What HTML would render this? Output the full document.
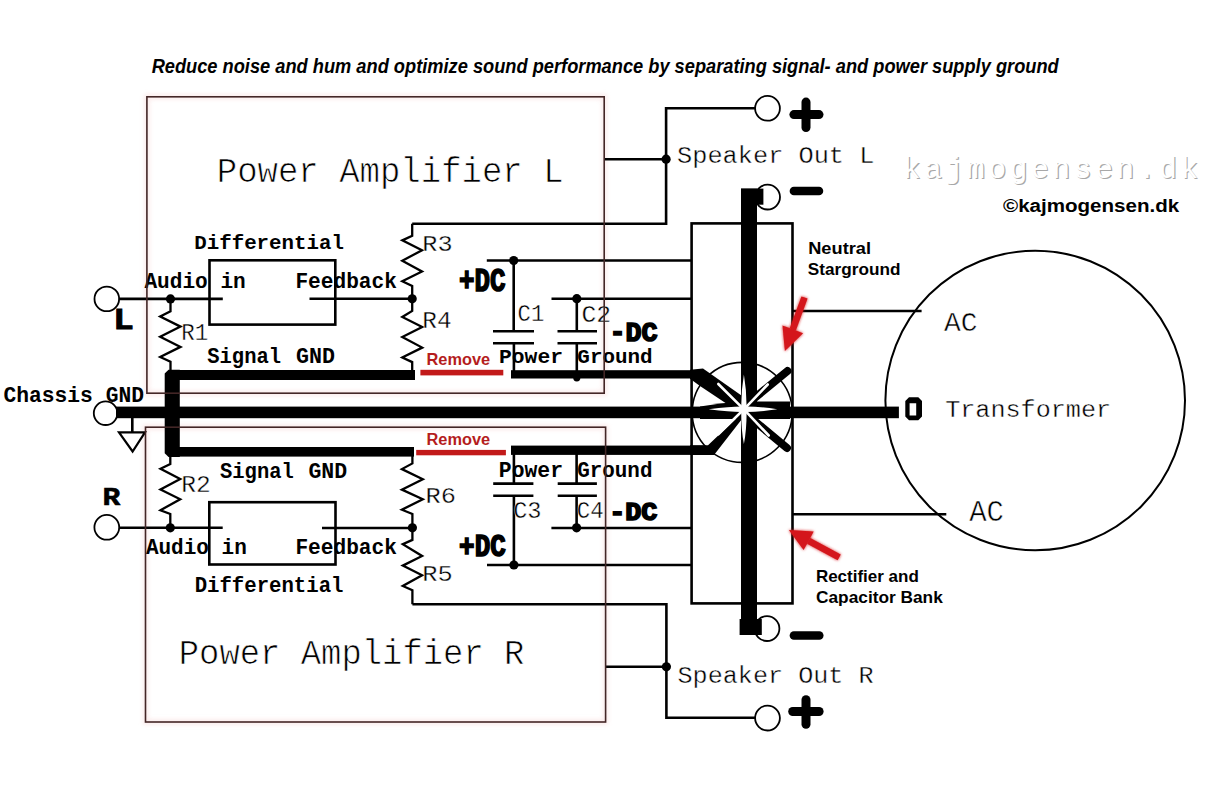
<!DOCTYPE html>
<html><head><meta charset="utf-8"><title>Star ground</title>
<style>html,body{margin:0;padding:0;background:#fff;}svg{display:block;}</style></head>
<body><svg width="1216" height="791" viewBox="0 0 1216 791">
<defs>
<filter id="glow" x="-5%" y="-5%" width="110%" height="110%"><feGaussianBlur stdDeviation="2"/></filter>
<filter id="rglow" x="-30%" y="-30%" width="160%" height="160%"><feGaussianBlur in="SourceGraphic" stdDeviation="1.5" result="b"/><feMerge><feMergeNode in="b"/><feMergeNode in="SourceGraphic"/></feMerge></filter>
</defs>
<rect width="1216" height="791" fill="#fff"/>
<g filter="url(#glow)" opacity="0.6">
<rect x="146.9" y="96.8" width="457.30" height="296.40" fill="none" stroke="#f8dada" stroke-width="5"/>
<rect x="145.5" y="427.2" width="460.10" height="294.80" fill="none" stroke="#f8dada" stroke-width="5"/>
</g>
<text x="151.64" y="72.60" font-family="Liberation Sans" font-weight="bold" font-style="italic" font-size="20.29" textLength="907.08" lengthAdjust="spacingAndGlyphs" fill="#000" >Reduce noise and hum and optimize sound performance by separating signal- and power supply ground</text>
<text x="216.78" y="181.50" font-family="Liberation Mono" font-weight="normal" font-style="normal" font-size="35.91" textLength="346.77" lengthAdjust="spacingAndGlyphs" fill="#000" stroke="#fff" stroke-width="0.73">Power Amplifier L</text>
<text x="194.25" y="249.20" font-family="Liberation Mono" font-weight="bold" font-style="normal" font-size="21.06" textLength="149.70" lengthAdjust="spacingAndGlyphs" fill="#000" >Differential</text>
<rect x="209.5" y="260.3" width="125.80" height="64.30" fill="none" stroke="#000" stroke-width="2.6"/>
<text x="144.40" y="287.80" font-family="Liberation Mono" font-weight="bold" font-style="normal" font-size="21.52" textLength="101.38" lengthAdjust="spacingAndGlyphs" fill="#000" >Audio in</text>
<text x="295.41" y="287.60" font-family="Liberation Mono" font-weight="bold" font-style="normal" font-size="21.67" textLength="101.44" lengthAdjust="spacingAndGlyphs" fill="#000" >Feedback</text>
<circle cx="106.8" cy="298.9" r="12.3" fill="none" stroke="#000" stroke-width="1.8"/>
<line x1="119" y1="298.9" x2="222.8" y2="298.9" stroke="#000" stroke-width="2.6" stroke-linecap="butt"/>
<circle cx="170.5" cy="298.9" r="4.6" fill="#000"/>
<polyline points="170.5,298.9 170.5,311.4 160.2,316.5 180.5,326.6 160.2,336.7 180.5,346.9 160.2,357.0 170.5,361.8 170.5,372" fill="none" stroke="#000" stroke-width="2.3" stroke-linejoin="miter" stroke-linecap="butt"/>
<text x="181.21" y="339.90" font-family="Liberation Mono" font-weight="normal" font-style="normal" font-size="23.94" textLength="26.92" lengthAdjust="spacingAndGlyphs" fill="#000" stroke="#fff" stroke-width="0.37">R1</text>
<text x="113.31" y="329.30" font-family="Liberation Mono" font-weight="bold" font-style="normal" font-size="29.09" textLength="20.50" lengthAdjust="spacingAndGlyphs" fill="#000" stroke="#000" stroke-width="1">L</text>
<line x1="309.5" y1="298.8" x2="412.2" y2="298.8" stroke="#000" stroke-width="2.6" stroke-linecap="butt"/>
<circle cx="412.2" cy="298.8" r="4.6" fill="#000"/>
<polyline points="412.2,223.7 412.2,235.8 402.3,240.4 422.0,250.2 402.3,260.8 422.0,271.5 402.3,281.3 412.2,285.9 412.2,298.8" fill="none" stroke="#000" stroke-width="2.3" stroke-linejoin="miter" stroke-linecap="butt"/>
<polyline points="412.2,298.8 412.2,310.9 402.3,317.0 422.2,326.9 402.3,337.1 422.2,347.6 402.3,357.5 412.2,362.1 412.2,372" fill="none" stroke="#000" stroke-width="2.3" stroke-linejoin="miter" stroke-linecap="butt"/>
<text x="422.28" y="251.00" font-family="Liberation Mono" font-weight="normal" font-style="normal" font-size="21.82" textLength="30.26" lengthAdjust="spacingAndGlyphs" fill="#000" stroke="#fff" stroke-width="0.31">R3</text>
<text x="422.35" y="327.60" font-family="Liberation Mono" font-weight="normal" font-style="normal" font-size="23.03" textLength="29.27" lengthAdjust="spacingAndGlyphs" fill="#000" stroke="#fff" stroke-width="0.34">R4</text>
<polyline points="412.2,223.7 666.1,223.7 666.1,108.2 755.3,108.2" fill="none" stroke="#000" stroke-width="2.6" stroke-linejoin="miter" stroke-linecap="butt"/>
<line x1="604.2" y1="159.2" x2="666.1" y2="159.2" stroke="#000" stroke-width="2.6" stroke-linecap="butt"/>
<circle cx="666.1" cy="159.2" r="4.6" fill="#000"/>
<text x="677.09" y="163.00" font-family="Liberation Mono" font-weight="normal" font-style="normal" font-size="24.03" textLength="197.28" lengthAdjust="spacingAndGlyphs" fill="#000" stroke="#fff" stroke-width="0.38">Speaker Out L</text>
<circle cx="767.5" cy="108.3" r="12.4" fill="none" stroke="#000" stroke-width="1.8"/>
<circle cx="767.6" cy="197.1" r="12.4" fill="none" stroke="#000" stroke-width="1.8"/>
<line x1="793.9" y1="114.6" x2="819" y2="114.6" stroke="#000" stroke-width="9" stroke-linecap="round"/>
<line x1="806" y1="102.1" x2="806" y2="127.6" stroke="#000" stroke-width="9" stroke-linecap="round"/>
<line x1="793.9" y1="191" x2="819" y2="191" stroke="#000" stroke-width="8.5" stroke-linecap="round"/>
<line x1="486.8" y1="260.5" x2="691.5" y2="260.5" stroke="#000" stroke-width="2.6" stroke-linecap="butt"/>
<circle cx="513.7" cy="260.5" r="4.6" fill="#000"/>
<line x1="513.7" y1="260.5" x2="513.7" y2="331.2" stroke="#000" stroke-width="2.6" stroke-linecap="butt"/>
<line x1="493" y1="331.2" x2="534" y2="331.2" stroke="#000" stroke-width="2.6" stroke-linecap="butt"/>
<line x1="493" y1="343.3" x2="534" y2="343.3" stroke="#000" stroke-width="2.6" stroke-linecap="butt"/>
<line x1="513.9" y1="343.3" x2="513.9" y2="372" stroke="#000" stroke-width="2.6" stroke-linecap="butt"/>
<line x1="551.5" y1="298.7" x2="691.5" y2="298.7" stroke="#000" stroke-width="2.6" stroke-linecap="butt"/>
<circle cx="576.8" cy="298.7" r="4.6" fill="#000"/>
<line x1="576.8" y1="298.7" x2="576.8" y2="331.2" stroke="#000" stroke-width="2.6" stroke-linecap="butt"/>
<line x1="557.5" y1="331.2" x2="597" y2="331.2" stroke="#000" stroke-width="2.6" stroke-linecap="butt"/>
<line x1="557.5" y1="343.2" x2="597" y2="343.2" stroke="#000" stroke-width="2.6" stroke-linecap="butt"/>
<line x1="576.8" y1="343.2" x2="576.8" y2="378" stroke="#000" stroke-width="2.6" stroke-linecap="butt"/>
<circle cx="576.8" cy="377.8" r="3.6" fill="#000"/>
<text x="517.58" y="321.30" font-family="Liberation Mono" font-weight="normal" font-style="normal" font-size="23.88" textLength="26.63" lengthAdjust="spacingAndGlyphs" fill="#000" stroke="#fff" stroke-width="0.38">C1</text>
<text x="581.44" y="321.50" font-family="Liberation Mono" font-weight="normal" font-style="normal" font-size="24.33" textLength="29.70" lengthAdjust="spacingAndGlyphs" fill="#000" stroke="#fff" stroke-width="0.39">C2</text>
<text x="458.90" y="290.80" font-family="Liberation Mono" font-weight="bold" font-style="normal" font-size="33.68" textLength="46.68" lengthAdjust="spacingAndGlyphs" fill="#000" stroke="#000" stroke-width="1.6">+DC</text>
<text x="609.42" y="341.40" font-family="Liberation Mono" font-weight="bold" font-style="normal" font-size="28.33" textLength="48.19" lengthAdjust="spacingAndGlyphs" fill="#000" stroke="#000" stroke-width="1.6">-DC</text>
<text x="499.01" y="362.70" font-family="Liberation Mono" font-weight="bold" font-style="normal" font-size="20.76" textLength="63.99" lengthAdjust="spacingAndGlyphs" fill="#000" >Power</text>
<text x="577.36" y="362.60" font-family="Liberation Mono" font-weight="bold" font-style="normal" font-size="20.30" textLength="75.31" lengthAdjust="spacingAndGlyphs" fill="#000" >Ground</text>
<text x="207.29" y="363.30" font-family="Liberation Mono" font-weight="bold" font-style="normal" font-size="21.64" textLength="73.74" lengthAdjust="spacingAndGlyphs" fill="#000" >Signal</text>
<text x="296.03" y="363.20" font-family="Liberation Mono" font-weight="bold" font-style="normal" font-size="21.79" textLength="38.94" lengthAdjust="spacingAndGlyphs" fill="#000" >GND</text>
<text x="426.54" y="364.70" font-family="Liberation Sans" font-weight="bold" font-style="normal" font-size="16.09" textLength="63.65" lengthAdjust="spacingAndGlyphs" fill="#b51d1d" >Remove</text>
<rect x="420.4" y="369.8" width="82.90" height="5.60" fill="#c21a1a"/>
<text x="178.79" y="663.50" font-family="Liberation Mono" font-weight="normal" font-style="normal" font-size="35.61" textLength="345.60" lengthAdjust="spacingAndGlyphs" fill="#000" stroke="#fff" stroke-width="0.72">Power Amplifier R</text>
<text x="194.66" y="592.40" font-family="Liberation Mono" font-weight="bold" font-style="normal" font-size="21.21" textLength="148.79" lengthAdjust="spacingAndGlyphs" fill="#000" >Differential</text>
<rect x="209.3" y="502.2" width="126.20" height="62.30" fill="none" stroke="#000" stroke-width="2.6"/>
<text x="145.90" y="553.80" font-family="Liberation Mono" font-weight="bold" font-style="normal" font-size="21.21" textLength="100.87" lengthAdjust="spacingAndGlyphs" fill="#000" >Audio in</text>
<text x="295.41" y="553.50" font-family="Liberation Mono" font-weight="bold" font-style="normal" font-size="21.36" textLength="101.54" lengthAdjust="spacingAndGlyphs" fill="#000" >Feedback</text>
<circle cx="106.8" cy="527.3" r="12.4" fill="none" stroke="#000" stroke-width="1.8"/>
<line x1="119.2" y1="527.8" x2="222.7" y2="527.8" stroke="#000" stroke-width="2.6" stroke-linecap="butt"/>
<circle cx="170.3" cy="527.8" r="4.6" fill="#000"/>
<polyline points="170.3,456 170.3,464 160.5,468.8 180.2,479.1 160.5,489.5 180.2,499.2 160.5,510.2 170.3,514 170.3,527.8" fill="none" stroke="#000" stroke-width="2.3" stroke-linejoin="miter" stroke-linecap="butt"/>
<text x="181.23" y="492.00" font-family="Liberation Mono" font-weight="normal" font-style="normal" font-size="23.64" textLength="29.49" lengthAdjust="spacingAndGlyphs" fill="#000" stroke="#fff" stroke-width="0.36">R2</text>
<text x="102.57" y="505.30" font-family="Liberation Mono" font-weight="bold" font-style="normal" font-size="26.06" textLength="17.83" lengthAdjust="spacingAndGlyphs" fill="#000" stroke="#000" stroke-width="0.6">R</text>
<text x="219.99" y="478.40" font-family="Liberation Mono" font-weight="bold" font-style="normal" font-size="22.69" textLength="73.84" lengthAdjust="spacingAndGlyphs" fill="#000" >Signal</text>
<text x="308.44" y="478.20" font-family="Liberation Mono" font-weight="bold" font-style="normal" font-size="21.79" textLength="38.73" lengthAdjust="spacingAndGlyphs" fill="#000" >GND</text>
<line x1="322" y1="528" x2="412.4" y2="528" stroke="#000" stroke-width="2.6" stroke-linecap="butt"/>
<circle cx="412.4" cy="527.8" r="4.6" fill="#000"/>
<polyline points="412.4,456 412.4,463.4 401.9,469.1 422.8,479.3 401.9,489.6 422.8,499.3 401.9,509.7 412.4,514 412.4,527.8" fill="none" stroke="#000" stroke-width="2.3" stroke-linejoin="miter" stroke-linecap="butt"/>
<polyline points="412.4,527.8 412.4,539.9 402.8,544.2 422.1,556.0 402.8,565.6 422.1,575.3 402.8,586.0 412.4,590.3 412.4,604.3" fill="none" stroke="#000" stroke-width="2.3" stroke-linejoin="miter" stroke-linecap="butt"/>
<polyline points="412.4,604.3 666.4,604.3 666.4,717.8 755.8,717.8" fill="none" stroke="#000" stroke-width="2.6" stroke-linejoin="miter" stroke-linecap="butt"/>
<text x="425.47" y="502.70" font-family="Liberation Mono" font-weight="normal" font-style="normal" font-size="21.82" textLength="30.49" lengthAdjust="spacingAndGlyphs" fill="#000" stroke="#fff" stroke-width="0.31">R6</text>
<text x="422.17" y="580.70" font-family="Liberation Mono" font-weight="normal" font-style="normal" font-size="22.88" textLength="30.49" lengthAdjust="spacingAndGlyphs" fill="#000" stroke="#fff" stroke-width="0.34">R5</text>
<line x1="605.6" y1="666.8" x2="666.4" y2="666.8" stroke="#000" stroke-width="2.6" stroke-linecap="butt"/>
<circle cx="666.4" cy="666.8" r="4.6" fill="#000"/>
<text x="677.49" y="683.20" font-family="Liberation Mono" font-weight="normal" font-style="normal" font-size="24.18" textLength="196.16" lengthAdjust="spacingAndGlyphs" fill="#000" stroke="#fff" stroke-width="0.39">Speaker Out R</text>
<circle cx="767.5" cy="718.1" r="12.4" fill="none" stroke="#000" stroke-width="1.8"/>
<circle cx="767" cy="628.6" r="12.4" fill="none" stroke="#000" stroke-width="1.8"/>
<line x1="792.7" y1="711.5" x2="819.1" y2="711.5" stroke="#000" stroke-width="9" stroke-linecap="round"/>
<line x1="806" y1="699.8" x2="806" y2="724.2" stroke="#000" stroke-width="9" stroke-linecap="round"/>
<line x1="793.9" y1="635.5" x2="819.3" y2="635.5" stroke="#000" stroke-width="8.5" stroke-linecap="round"/>
<line x1="487" y1="565" x2="691.5" y2="565" stroke="#000" stroke-width="2.6" stroke-linecap="butt"/>
<circle cx="513.9" cy="565" r="4.6" fill="#000"/>
<line x1="513.9" y1="454" x2="513.9" y2="483.6" stroke="#000" stroke-width="2.6" stroke-linecap="butt"/>
<line x1="493.2" y1="483.6" x2="533.4" y2="483.6" stroke="#000" stroke-width="2.6" stroke-linecap="butt"/>
<line x1="493.2" y1="495.8" x2="533.4" y2="495.8" stroke="#000" stroke-width="2.6" stroke-linecap="butt"/>
<line x1="513.9" y1="495.8" x2="513.9" y2="565" stroke="#000" stroke-width="2.6" stroke-linecap="butt"/>
<line x1="551.4" y1="528" x2="691.5" y2="528" stroke="#000" stroke-width="2.6" stroke-linecap="butt"/>
<circle cx="576.6" cy="527.8" r="4.6" fill="#000"/>
<line x1="576.6" y1="454" x2="576.6" y2="483.6" stroke="#000" stroke-width="2.6" stroke-linecap="butt"/>
<line x1="557.7" y1="483.6" x2="596.9" y2="483.6" stroke="#000" stroke-width="2.6" stroke-linecap="butt"/>
<line x1="557.7" y1="495.8" x2="596.9" y2="495.8" stroke="#000" stroke-width="2.6" stroke-linecap="butt"/>
<line x1="576.6" y1="495.8" x2="576.6" y2="527.8" stroke="#000" stroke-width="2.6" stroke-linecap="butt"/>
<text x="513.20" y="518.20" font-family="Liberation Mono" font-weight="normal" font-style="normal" font-size="24.63" textLength="28.34" lengthAdjust="spacingAndGlyphs" fill="#000" stroke="#fff" stroke-width="0.40">C3</text>
<text x="576.76" y="518.20" font-family="Liberation Mono" font-weight="normal" font-style="normal" font-size="24.63" textLength="26.96" lengthAdjust="spacingAndGlyphs" fill="#000" stroke="#fff" stroke-width="0.40">C4</text>
<text x="459.10" y="556.00" font-family="Liberation Mono" font-weight="bold" font-style="normal" font-size="30.77" textLength="46.68" lengthAdjust="spacingAndGlyphs" fill="#000" stroke="#000" stroke-width="1.6">+DC</text>
<text x="609.22" y="519.50" font-family="Liberation Mono" font-weight="bold" font-style="normal" font-size="25.15" textLength="48.19" lengthAdjust="spacingAndGlyphs" fill="#000" stroke="#000" stroke-width="1.6">-DC</text>
<text x="498.81" y="477.20" font-family="Liberation Mono" font-weight="bold" font-style="normal" font-size="22.27" textLength="64.20" lengthAdjust="spacingAndGlyphs" fill="#000" >Power</text>
<text x="577.16" y="476.60" font-family="Liberation Mono" font-weight="bold" font-style="normal" font-size="21.79" textLength="75.31" lengthAdjust="spacingAndGlyphs" fill="#000" >Ground</text>
<text x="426.54" y="444.50" font-family="Liberation Sans" font-weight="bold" font-style="normal" font-size="15.80" textLength="63.65" lengthAdjust="spacingAndGlyphs" fill="#b51d1d" >Remove</text>
<rect x="416.2" y="449.9" width="89.70" height="5.40" fill="#c21a1a"/>
<rect x="170" y="370" width="245.00" height="10.00" fill="#000"/>
<rect x="511" y="370.2" width="187.00" height="8.30" fill="#000"/>
<rect x="170" y="447" width="244.00" height="9.60" fill="#000"/>
<rect x="511" y="445.6" width="193.00" height="9.30" fill="#000"/>
<polygon points="168.5,369.8 179.8,369.8 179.8,457 168.5,457 164.7,453.2 164.7,373.6" fill="#000"/>
<rect x="116" y="406.6" width="782.90" height="11.60" fill="#000"/>
<circle cx="105.6" cy="413.2" r="11.8" fill="none" stroke="#000" stroke-width="1.8"/>
<line x1="132.3" y1="418" x2="132.3" y2="432.4" stroke="#000" stroke-width="2.6" stroke-linecap="butt"/>
<polygon points="119,432.4 145,432.4 132.6,451.5" fill="none" stroke="#000" stroke-width="2.2"/>
<text x="3.45" y="401.50" font-family="Liberation Mono" font-weight="bold" font-style="normal" font-size="22.09" textLength="140.52" lengthAdjust="spacingAndGlyphs" fill="#000" >Chassis GND</text>
<rect x="691.6" y="223.4" width="100.90" height="380.00" fill="none" stroke="#000" stroke-width="2.6"/>
<line x1="792.5" y1="311" x2="921.6" y2="311" stroke="#000" stroke-width="2.6" stroke-linecap="butt"/>
<line x1="792.5" y1="514.2" x2="946.3" y2="514.2" stroke="#000" stroke-width="2.6" stroke-linecap="butt"/>
<rect x="741" y="188.6" width="16.00" height="446.40" fill="#000"/>
<rect x="741" y="188.6" width="22.40" height="16.10" fill="#000"/>
<rect x="739.6" y="619" width="22.20" height="16.00" fill="#000"/>
<circle cx="742.2" cy="412.4" r="50" fill="none" stroke="#000" stroke-width="1.6"/>
<path d="M700,406.5 Q722,402.5 745,401.5 L790,401.5 L790,419 L700,419 Z" fill="#000"/>
<path d="M690,369.8 L703,368.6 L745,398 L745,410 L730,406 L700,386 L690,378.7 Z" fill="#000"/>
<path d="M690,445.3 L708,445.3 L742,413 L742,419 L714,454.9 L690,454.9 Z" fill="#000"/>
<polyline points="746,405 787.5,371" fill="none" stroke="#000" stroke-width="8" stroke-linejoin="miter" stroke-linecap="round"/>
<polyline points="746,414 787,448" fill="none" stroke="#000" stroke-width="8" stroke-linejoin="miter" stroke-linecap="round"/>
<path d="M708.6,409.3 Q730,406.6 741.2,406.6 Q741.2,390 743.9,374.4 Q746.6,390 746.6,406.6 Q760,406.6 777.3,409.3 Q760,412 746.6,412 Q746.6,430 743.9,444 Q741.2,430 741.2,412 Q730,412 708.6,409.3 Z" fill="#fff"/>
<line x1="743.9" y1="409.3" x2="718.3" y2="384" stroke="#fff" stroke-width="2.6" stroke-linecap="round"/>
<line x1="743.9" y1="409.3" x2="767.7" y2="384.5" stroke="#fff" stroke-width="2.6" stroke-linecap="round"/>
<line x1="743.9" y1="409.3" x2="718.3" y2="434.4" stroke="#fff" stroke-width="2.6" stroke-linecap="round"/>
<line x1="743.9" y1="409.3" x2="768.7" y2="435.5" stroke="#fff" stroke-width="2.6" stroke-linecap="round"/>
<circle cx="1035.2" cy="400.5" r="149.8" fill="none" stroke="#000" stroke-width="2"/>
<text x="944.00" y="330.50" font-family="Liberation Mono" font-weight="normal" font-style="normal" font-size="28.03" textLength="33.46" lengthAdjust="spacingAndGlyphs" fill="#000" stroke="#fff" stroke-width="0.49">AC</text>
<text x="969.20" y="521.30" font-family="Liberation Mono" font-weight="normal" font-style="normal" font-size="28.94" textLength="34.81" lengthAdjust="spacingAndGlyphs" fill="#000" stroke="#fff" stroke-width="0.52">AC</text>
<path d="M909,397.2 L918.3,397.2 L922,401 L922,416.5 L918.3,420.2 L909,420.2 L905.3,416.5 L905.3,401 Z M909.6,403.2 L909.6,415.6 L916.2,415.6 L916.2,403.2 Z" fill="#000" fill-rule="evenodd"/>
<text x="945.22" y="417.00" font-family="Liberation Mono" font-weight="normal" font-style="normal" font-size="24.39" textLength="165.86" lengthAdjust="spacingAndGlyphs" fill="#000" stroke="#fff" stroke-width="0.38">Transformer</text>
<text x="903.97" y="179.00" font-family="Liberation Mono" font-weight="normal" font-style="normal" font-size="29.79" letter-spacing="3.485" fill="#a8a8a8" >kajmogensen.dk</text>
<text x="902.77" y="177.80" font-family="Liberation Mono" font-weight="normal" font-style="normal" font-size="29.79" letter-spacing="3.485" fill="#fff" >kajmogensen.dk</text>
<text x="1002.99" y="211.80" font-family="Liberation Sans" font-weight="bold" font-style="normal" font-size="19.03" textLength="176.27" lengthAdjust="spacingAndGlyphs" fill="#000" >©kajmogensen.dk</text>
<text x="808.22" y="254.30" font-family="Liberation Sans" font-weight="bold" font-style="normal" font-size="16.67" textLength="62.77" lengthAdjust="spacingAndGlyphs" fill="#000" >Neutral</text>
<text x="807.88" y="275.20" font-family="Liberation Sans" font-weight="bold" font-style="normal" font-size="16.43" textLength="92.51" lengthAdjust="spacingAndGlyphs" fill="#000" >Starground</text>
<text x="815.90" y="581.80" font-family="Liberation Sans" font-weight="bold" font-style="normal" font-size="16.09" textLength="102.95" lengthAdjust="spacingAndGlyphs" fill="#000" >Rectifier and</text>
<text x="816.01" y="602.50" font-family="Liberation Sans" font-weight="bold" font-style="normal" font-size="15.86" textLength="126.80" lengthAdjust="spacingAndGlyphs" fill="#000" >Capacitor Bank</text>
<g filter="url(#rglow)"><line x1="804.5" y1="297.5" x2="792.8" y2="329.4" stroke="#d4151a" stroke-width="6.5"/><polygon points="784.9,351 782.5,325.6 803.1,333.2" fill="#d4151a"/></g>
<g filter="url(#rglow)"><line x1="839.2" y1="557.4" x2="808.7" y2="540.8" stroke="#d4151a" stroke-width="6.5"/><polygon points="788.9,530 813.7,531.5 803.6,550.0" fill="#d4151a"/></g>
<rect x="146.9" y="96.8" width="457.30" height="296.40" fill="none" stroke="#432626" stroke-width="1.6"/>
<rect x="145.5" y="427.2" width="460.10" height="294.80" fill="none" stroke="#432626" stroke-width="1.6"/>
</svg></body></html>
